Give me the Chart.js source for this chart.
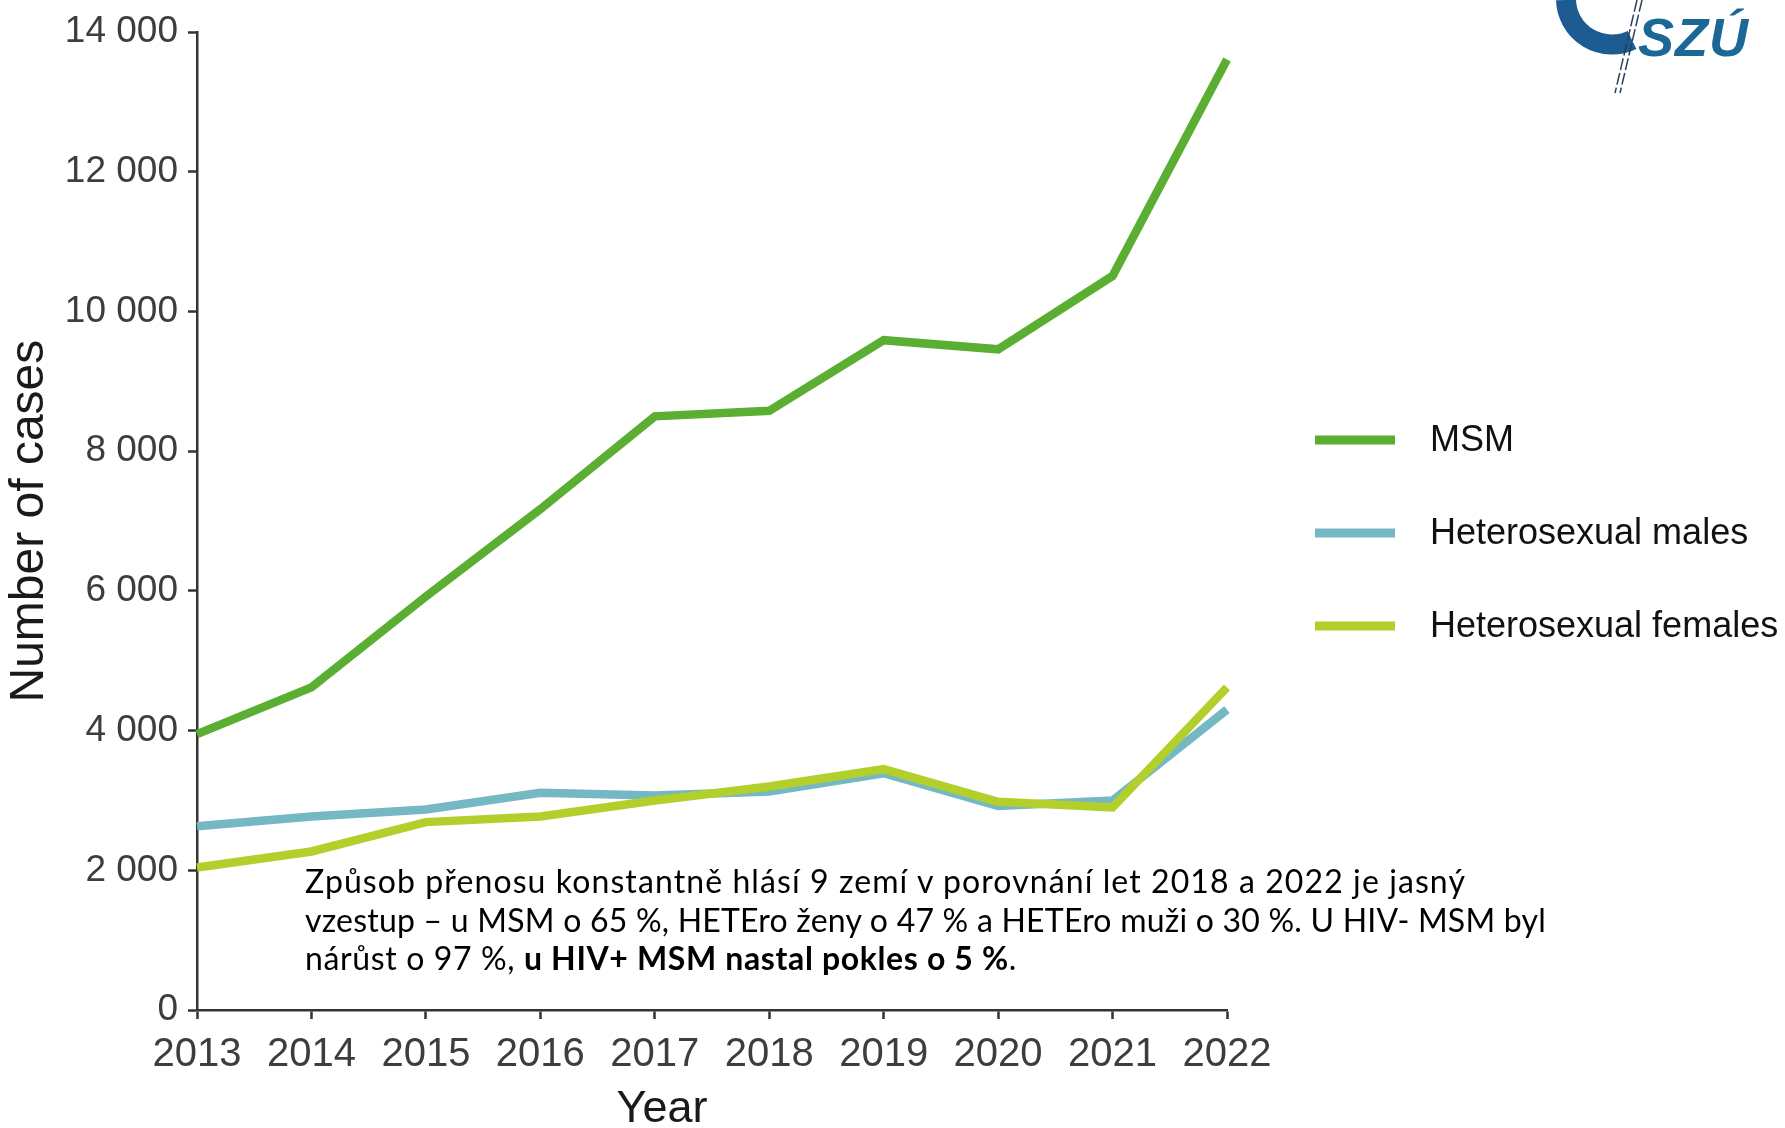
<!DOCTYPE html>
<html>
<head>
<meta charset="utf-8">
<script src="https://cdn.jsdelivr.net/npm/chart.js@4/dist/chart.umd.min.js"></script>
<style>
  html, body { margin: 0; padding: 0; background: #ffffff; }
  #wrap { position: relative; width: 1785px; height: 1128px; overflow: hidden; }
  #c { position: absolute; left: 0; top: 0; }
  #note { position: absolute; left: 305px; top: 862px; font-family: Lato, "Open Sans", sans-serif;
          font-size: 32px; line-height: 38.5px; color: #000; white-space: nowrap; }
  #note div { display: block; }
  #note span.l { display: inline-block; }
  #note b { font-weight: 700; }
  #logo { position: absolute; left: 0; top: 0; }
</style>
</head>
<body>
<div id="wrap">
  <canvas id="c" width="1785" height="1128"></canvas>
  <div id="note">
    <div><span class="l" data-w="1161">Způsob přenosu konstantně hlásí 9 zemí v porovnání let 2018 a 2022 je jasný</span></div>
    <div><span class="l" data-w="1241">vzestup – u MSM o 65 %, HETEro ženy o 47 % a HETEro muži o 30 %. U HIV- MSM byl</span></div>
    <div><span class="l" data-w="712">nárůst o 97 %, <b>u HIV+ MSM nastal pokles o 5 %</b>.</span></div>
  </div>
  <svg id="logo" width="1785" height="120" viewBox="0 0 1785 120">
    <path d="M 1566 0 A 46 46 0 0 0 1632 40" fill="none" stroke="#1d5b93" stroke-width="20"/>
    <line x1="1637" y1="0" x2="1615" y2="93" stroke="#2a3f5a" stroke-width="1.5" stroke-dasharray="12 3"/>
    <line x1="1642" y1="0" x2="1620" y2="93" stroke="#2a3f5a" stroke-width="1.5" stroke-dasharray="12 3"/>
    <text x="1638" y="56" font-family="Liberation Sans, Arial, sans-serif" font-weight="700" font-style="italic"
          font-size="54" letter-spacing="1" fill="#1b6896">SZÚ</text>
  </svg>
</div>
<script>
const years = ['2013','2014','2015','2016','2017','2018','2019','2020','2021','2022'];
const msm = [3950, 4620, 5920, 7170, 8500, 8580, 9590, 9460, 10510, 13610];
const heteroMales = [2630, 2770, 2870, 3110, 3070, 3130, 3390, 2920, 3000, 4300];
const heteroFemales = [2040, 2270, 2690, 2770, 3000, 3200, 3450, 2980, 2900, 4620];
const seriesNames = ['MSM', 'Heterosexual males', 'Heterosexual females'];
const yTickValues = [0, 2000, 4000, 6000, 8000, 10000, 12000, 14000];
const xTitle = 'Year';
const yTitle = 'Number of cases';

const colors = ['#5aae31', '#74b8c4', '#b3cf2c'];

// fit each note line to the width it has in the reference
document.querySelectorAll('#note span.l').forEach(el => {
  const target = +el.dataset.w;
  const chars = el.textContent.length;
  const w = el.getBoundingClientRect().width;
  el.style.letterSpacing = ((target - w) / chars) + 'px';
});

const legendPlugin = {
  id: 'customLegend',
  afterDraw(chart) {
    const ctx = chart.ctx;
    ctx.save();
    chart.data.datasets.forEach((ds, i) => {
      const y = 440 + i * 93;
      ctx.strokeStyle = ds.borderColor;
      ctx.lineWidth = 9;
      ctx.beginPath();
      ctx.moveTo(1315, y);
      ctx.lineTo(1395, y);
      ctx.stroke();
      ctx.fillStyle = '#111';
      ctx.font = '36px "Liberation Sans", Arial, sans-serif';
      ctx.textBaseline = 'middle';
      ctx.textAlign = 'left';
      ctx.fillText(ds.label, 1430, y + 1);
    });
    ctx.restore();
  }
};

const fmt = v => String(v).replace(/\B(?=(\d{3})+(?!\d))/g, ' ');
const font = '"Liberation Sans", Arial, sans-serif';

new Chart(document.getElementById('c'), {
  type: 'line',
  data: {
    labels: years,
    datasets: [
      { label: seriesNames[0], data: msm, borderColor: colors[0], order: 0 },
      { label: seriesNames[1], data: heteroMales, borderColor: colors[1], order: 2 },
      { label: seriesNames[2], data: heteroFemales, borderColor: colors[2], order: 1 }
    ]
  },
  options: {
    responsive: false,
    animation: false,
    layout: { padding: { left: 0, right: 558, top: 27, bottom: 0 } },
    elements: {
      line: { borderWidth: 8.5, tension: 0, fill: false },
      point: { radius: 0 }
    },
    plugins: { legend: { display: false }, tooltip: { enabled: false } },
    scales: {
      x: {
        type: 'category',
        offset: false,
        afterFit: s => { s.height = 118; },
        grid: { display: true, drawOnChartArea: false, drawTicks: true, tickLength: 9, tickColor: '#333', tickWidth: 2.5 },
        border: { display: true, color: '#333', width: 2.5 },
        ticks: { color: '#3d3d3d', font: { family: font, size: 40 }, padding: 12, maxRotation: 0, autoSkip: false },
        title: { display: true, text: xTitle + '        ', color: '#1a1a1a', font: { family: font, size: 45, lineHeight: 0.82 }, padding: { top: 0, bottom: 0 } }
      },
      y: {
        min: 0, max: 14000,
        afterFit: s => { s.width = 197; },
        afterBuildTicks: s => { s.ticks = yTickValues.map(v => ({ value: v })); },
        grid: { display: true, drawOnChartArea: false, drawTicks: true, tickLength: 9, tickColor: '#333', tickWidth: 2.5 },
        border: { display: true, color: '#333', width: 2.5 },
        ticks: { color: '#3d3d3d', font: { family: font, size: 37 }, padding: 10, callback: v => fmt(v) },
        title: { display: true, text: yTitle, color: '#1a1a1a', font: { family: font, size: 48, lineHeight: 1 }, padding: { top: 6, bottom: 0 } }
      }
    }
  },
  plugins: [legendPlugin]
});
</script>
</body>
</html>
